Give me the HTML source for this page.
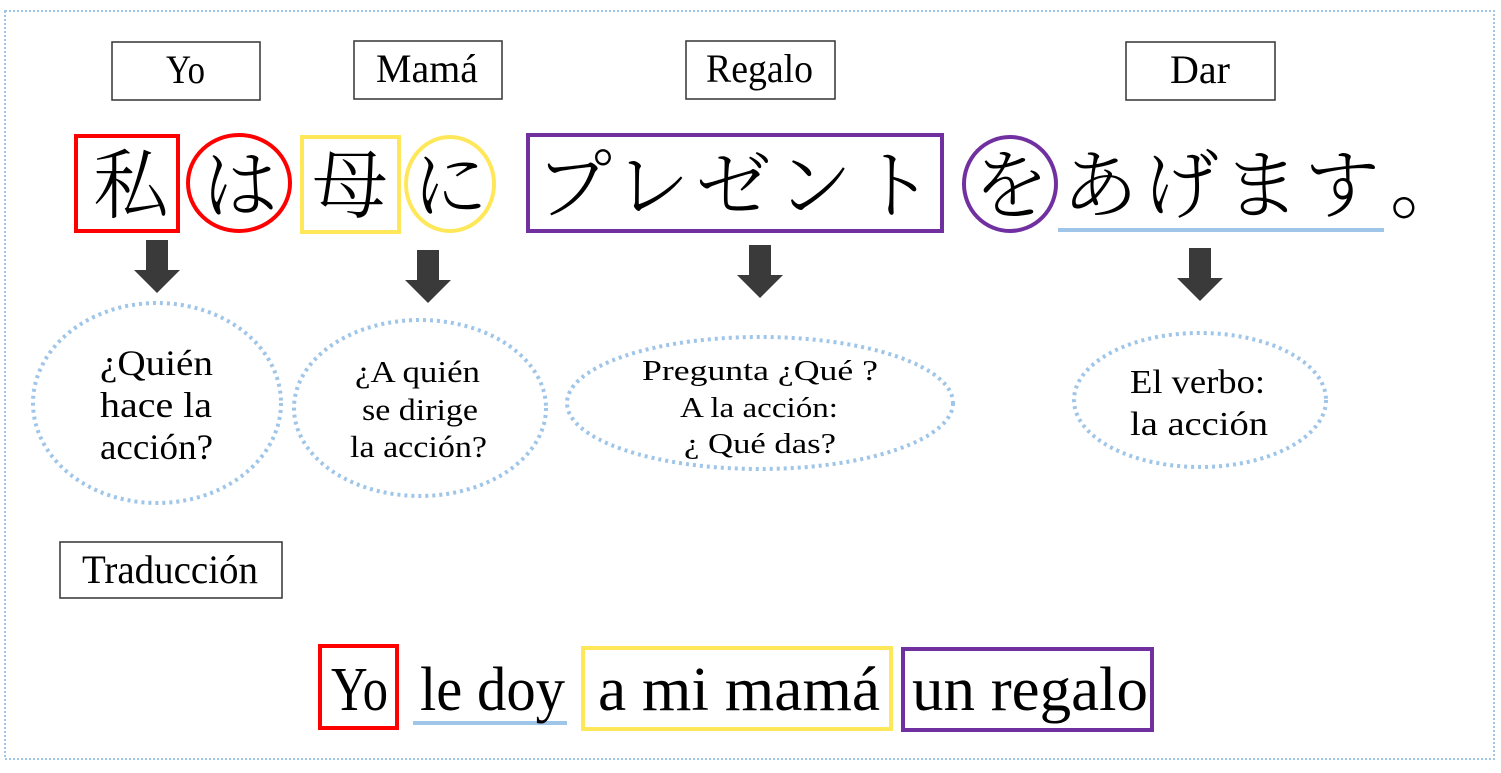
<!DOCTYPE html>
<html><head><meta charset="utf-8"><style>
html,body{margin:0;padding:0;background:#fff;width:1501px;height:773px;overflow:hidden}
svg{display:block}
.s{font-family:"Liberation Serif",serif;fill:#000}
.j{font-family:"Noto Serif CJK SC","Noto Sans CJK JP",serif;fill:#000;font-weight:300}
</style></head><body>
<svg width="1501" height="773" viewBox="0 0 1501 773" xmlns="http://www.w3.org/2000/svg">
<rect x="5" y="11" width="1489" height="748" fill="none" stroke="#9fc5e8" stroke-width="2" stroke-dasharray="2 2"/>
<g fill="#fff" stroke="#333" stroke-width="1.5">
<rect x="112" y="42" width="148" height="58"/>
<rect x="354" y="41" width="148" height="58"/>
<rect x="686" y="41" width="149" height="58"/>
<rect x="1126" y="42" width="149" height="58"/>
<rect x="60" y="542" width="222" height="56"/>
</g>
<g class="s" font-size="40">
<text x="166" y="83" textLength="39" lengthAdjust="spacingAndGlyphs">Yo</text>
<text x="376" y="82" textLength="102" lengthAdjust="spacingAndGlyphs">Mamá</text>
<text x="706" y="82" textLength="107" lengthAdjust="spacingAndGlyphs">Regalo</text>
<text x="1170" y="83" textLength="60" lengthAdjust="spacingAndGlyphs">Dar</text>
<text x="82" y="583" textLength="176" lengthAdjust="spacingAndGlyphs">Traducción</text>
</g>
<rect x="76" y="136" width="102" height="95" fill="none" stroke="#f00" stroke-width="4"/>
<ellipse cx="239" cy="183" rx="51" ry="48" fill="none" stroke="#f00" stroke-width="4"/>
<rect x="302" y="137" width="97" height="95" fill="none" stroke="#ffe75a" stroke-width="4"/>
<ellipse cx="450" cy="184" rx="44" ry="47" fill="none" stroke="#ffe75a" stroke-width="4"/>
<rect x="528" y="135" width="414" height="96" fill="none" stroke="#7030a0" stroke-width="4"/>
<ellipse cx="1010" cy="184" rx="46" ry="47" fill="none" stroke="#7030a0" stroke-width="4"/>
<rect x="1058" y="228" width="326" height="4" fill="#9fc5e8"/>
<g class="j" font-size="76">
<text x="93" y="212">私</text>
<text x="202" y="212">は</text>
<text x="312" y="212">母</text>
<text x="412" y="212">に</text>
<text x="536" y="212" textLength="398">プレゼント</text>
<text x="973" y="212">を</text>
<text x="1062" y="212" textLength="318">あげます</text>
<text x="1390" y="212">。</text>
</g>
<g fill="#3a3a3a">
<path d="M146 240h22v30h12l-23 23l-23-23h12z"/>
<path d="M417 250h22v30h12l-23 23l-23-23h12z"/>
<path d="M749 245h22v30h12l-23 23l-23-23h12z"/>
<path d="M1189 248h22v30h12l-23 23l-23-23h12z"/>
</g>
<g fill="none" stroke="#9fc5e8" stroke-width="4" stroke-dasharray="3 4">
<ellipse cx="157" cy="403" rx="124" ry="100"/>
<ellipse cx="420" cy="408" rx="126" ry="88"/>
<ellipse cx="760" cy="403" rx="193" ry="66"/>
<ellipse cx="1200" cy="400" rx="126" ry="67"/>
</g>
<g class="s">
<g font-size="36"><text x="100" y="375" textLength="113" lengthAdjust="spacingAndGlyphs">¿Quién</text><text x="100" y="417" textLength="112" lengthAdjust="spacingAndGlyphs">hace la</text><text x="100" y="459" textLength="113" lengthAdjust="spacingAndGlyphs">acción?</text></g>
<g font-size="31"><text x="355" y="382" textLength="125" lengthAdjust="spacingAndGlyphs">¿A quién</text><text x="362" y="420" textLength="116" lengthAdjust="spacingAndGlyphs">se dirige</text><text x="350" y="457" textLength="137" lengthAdjust="spacingAndGlyphs">la acción?</text></g>
<g font-size="29"><text x="642" y="380" textLength="236" lengthAdjust="spacingAndGlyphs">Pregunta ¿Qué ?</text><text x="680" y="417" textLength="158" lengthAdjust="spacingAndGlyphs">A la acción:</text><text x="684" y="453" textLength="152" lengthAdjust="spacingAndGlyphs">¿ Qué das?</text></g>
<g font-size="34"><text x="1130" y="393" textLength="135" lengthAdjust="spacingAndGlyphs">El verbo:</text><text x="1130" y="435" textLength="138" lengthAdjust="spacingAndGlyphs">la acción</text></g>
</g>
<rect x="320" y="646" width="77" height="82" fill="none" stroke="#f00" stroke-width="4"/>
<rect x="583" y="648" width="308" height="81" fill="none" stroke="#ffe75a" stroke-width="4"/>
<rect x="903" y="649" width="249" height="81" fill="none" stroke="#7030a0" stroke-width="4"/>
<rect x="413" y="721" width="154" height="4" fill="#9fc5e8"/>
<g class="s" font-size="62">
<text x="331" y="710" textLength="57" lengthAdjust="spacingAndGlyphs">Yo</text>
<text x="420" y="710" textLength="145" lengthAdjust="spacingAndGlyphs">le doy</text>
<text x="598" y="710" textLength="282" lengthAdjust="spacingAndGlyphs">a mi mamá</text>
<text x="912" y="710" textLength="236" lengthAdjust="spacingAndGlyphs">un regalo</text>
</g>
</svg>
</body></html>
